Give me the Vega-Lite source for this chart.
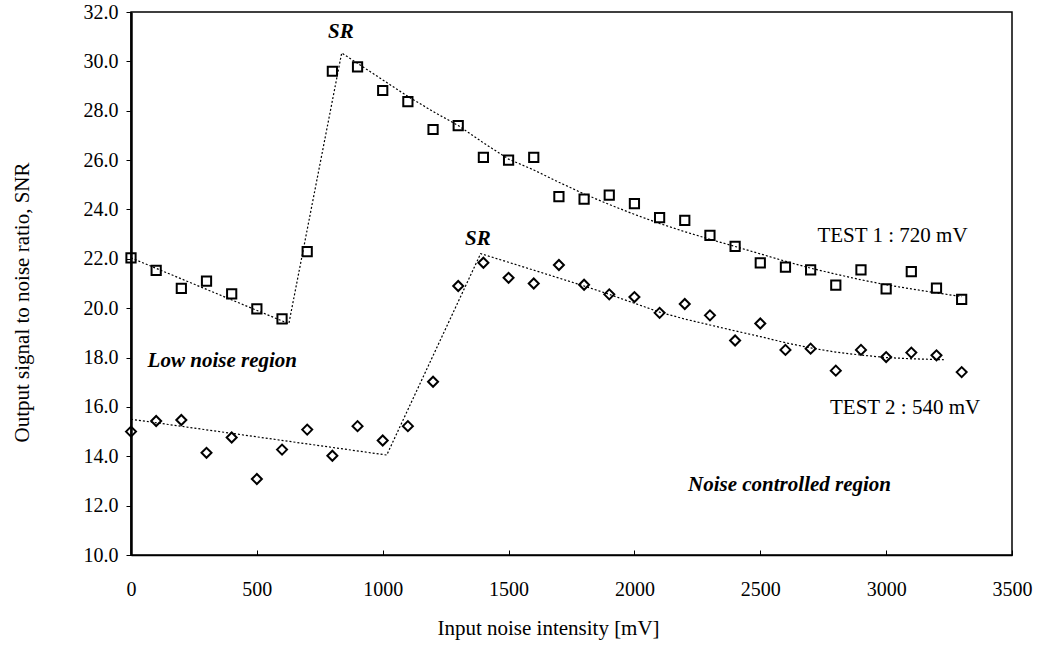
{
  "$schema": "https://vega.github.io/schema/vega-lite/v6.json",
  "autosize": "none",
  "width": 881,
  "height": 543,
  "padding": {"left": 131, "top": 12, "right": 25, "bottom": 90},
  "background": "white",
  "config": {
    "font": "Liberation Serif",
    "view": {"stroke": "black", "strokeWidth": 1.5},
    "axis": {"grid": false, "domainColor": "black", "tickColor": "black", "labelColor": "black", "titleColor": "black", "labelFont": "Liberation Serif", "titleFont": "Liberation Serif", "labelFontSize": 20, "titleFontSize": 21, "titleFontWeight": "normal"}
  },
  "datasets": {
    "points": [
      {"series": "TEST 1", "x": 0, "y": 22.04},
      {"series": "TEST 1", "x": 100, "y": 21.53},
      {"series": "TEST 1", "x": 200, "y": 20.8},
      {"series": "TEST 1", "x": 300, "y": 21.1},
      {"series": "TEST 1", "x": 400, "y": 20.58},
      {"series": "TEST 1", "x": 500, "y": 19.97},
      {"series": "TEST 1", "x": 600, "y": 19.57},
      {"series": "TEST 1", "x": 700, "y": 22.29},
      {"series": "TEST 1", "x": 800, "y": 29.6},
      {"series": "TEST 1", "x": 900, "y": 29.78},
      {"series": "TEST 1", "x": 1000, "y": 28.82},
      {"series": "TEST 1", "x": 1100, "y": 28.37},
      {"series": "TEST 1", "x": 1200, "y": 27.24},
      {"series": "TEST 1", "x": 1300, "y": 27.4},
      {"series": "TEST 1", "x": 1400, "y": 26.11},
      {"series": "TEST 1", "x": 1500, "y": 26.0},
      {"series": "TEST 1", "x": 1600, "y": 26.11},
      {"series": "TEST 1", "x": 1700, "y": 24.52},
      {"series": "TEST 1", "x": 1800, "y": 24.42},
      {"series": "TEST 1", "x": 1900, "y": 24.58},
      {"series": "TEST 1", "x": 2000, "y": 24.24},
      {"series": "TEST 1", "x": 2100, "y": 23.67},
      {"series": "TEST 1", "x": 2200, "y": 23.56},
      {"series": "TEST 1", "x": 2300, "y": 22.95},
      {"series": "TEST 1", "x": 2400, "y": 22.5},
      {"series": "TEST 1", "x": 2500, "y": 21.84},
      {"series": "TEST 1", "x": 2600, "y": 21.66},
      {"series": "TEST 1", "x": 2700, "y": 21.55},
      {"series": "TEST 1", "x": 2800, "y": 20.93},
      {"series": "TEST 1", "x": 2900, "y": 21.55},
      {"series": "TEST 1", "x": 3000, "y": 20.78},
      {"series": "TEST 1", "x": 3100, "y": 21.48},
      {"series": "TEST 1", "x": 3200, "y": 20.81},
      {"series": "TEST 1", "x": 3300, "y": 20.36},
      {"series": "TEST 2", "x": 0, "y": 15.0},
      {"series": "TEST 2", "x": 100, "y": 15.43},
      {"series": "TEST 2", "x": 200, "y": 15.47},
      {"series": "TEST 2", "x": 300, "y": 14.14},
      {"series": "TEST 2", "x": 400, "y": 14.76},
      {"series": "TEST 2", "x": 500, "y": 13.08},
      {"series": "TEST 2", "x": 600, "y": 14.27},
      {"series": "TEST 2", "x": 700, "y": 15.08},
      {"series": "TEST 2", "x": 800, "y": 14.02},
      {"series": "TEST 2", "x": 900, "y": 15.22},
      {"series": "TEST 2", "x": 1000, "y": 14.64},
      {"series": "TEST 2", "x": 1100, "y": 15.22},
      {"series": "TEST 2", "x": 1200, "y": 17.02},
      {"series": "TEST 2", "x": 1300, "y": 20.9},
      {"series": "TEST 2", "x": 1400, "y": 21.84},
      {"series": "TEST 2", "x": 1500, "y": 21.23},
      {"series": "TEST 2", "x": 1600, "y": 21.0},
      {"series": "TEST 2", "x": 1700, "y": 21.75},
      {"series": "TEST 2", "x": 1800, "y": 20.95},
      {"series": "TEST 2", "x": 1900, "y": 20.56},
      {"series": "TEST 2", "x": 2000, "y": 20.45},
      {"series": "TEST 2", "x": 2100, "y": 19.81},
      {"series": "TEST 2", "x": 2200, "y": 20.17},
      {"series": "TEST 2", "x": 2300, "y": 19.71},
      {"series": "TEST 2", "x": 2400, "y": 18.69},
      {"series": "TEST 2", "x": 2500, "y": 19.38},
      {"series": "TEST 2", "x": 2600, "y": 18.31},
      {"series": "TEST 2", "x": 2700, "y": 18.36},
      {"series": "TEST 2", "x": 2800, "y": 17.47},
      {"series": "TEST 2", "x": 2900, "y": 18.31},
      {"series": "TEST 2", "x": 3000, "y": 18.02},
      {"series": "TEST 2", "x": 3100, "y": 18.2},
      {"series": "TEST 2", "x": 3200, "y": 18.09},
      {"series": "TEST 2", "x": 3300, "y": 17.41}
    ],
    "fits": [
      {"fit": "F1", "x": 0, "y": 22.04},
      {"fit": "F1", "x": 627, "y": 19.37},
      {"fit": "F1", "x": 837, "y": 30.34},
      {"fit": "F1", "x": 900, "y": 29.92},
      {"fit": "F1", "x": 1000, "y": 29.25},
      {"fit": "F1", "x": 1100, "y": 28.58},
      {"fit": "F1", "x": 1200, "y": 27.97},
      {"fit": "F1", "x": 1300, "y": 27.4},
      {"fit": "F1", "x": 1400, "y": 26.7},
      {"fit": "F1", "x": 1500, "y": 26.04},
      {"fit": "F1", "x": 1600, "y": 25.6},
      {"fit": "F1", "x": 1700, "y": 25.1},
      {"fit": "F1", "x": 1800, "y": 24.63},
      {"fit": "F1", "x": 1900, "y": 24.2},
      {"fit": "F1", "x": 2000, "y": 23.8},
      {"fit": "F1", "x": 2100, "y": 23.43},
      {"fit": "F1", "x": 2200, "y": 23.1},
      {"fit": "F1", "x": 2300, "y": 22.79},
      {"fit": "F1", "x": 2400, "y": 22.5},
      {"fit": "F1", "x": 2500, "y": 22.2},
      {"fit": "F1", "x": 2600, "y": 21.9},
      {"fit": "F1", "x": 2700, "y": 21.62},
      {"fit": "F1", "x": 2800, "y": 21.38},
      {"fit": "F1", "x": 2900, "y": 21.15},
      {"fit": "F1", "x": 3000, "y": 20.95},
      {"fit": "F1", "x": 3100, "y": 20.78},
      {"fit": "F1", "x": 3200, "y": 20.62},
      {"fit": "F1", "x": 3300, "y": 20.47},
      {"fit": "F2", "x": 0, "y": 15.5},
      {"fit": "F2", "x": 1016, "y": 14.05},
      {"fit": "F2", "x": 1389, "y": 22.21},
      {"fit": "F2", "x": 1500, "y": 21.86},
      {"fit": "F2", "x": 1600, "y": 21.54},
      {"fit": "F2", "x": 1700, "y": 21.22},
      {"fit": "F2", "x": 1800, "y": 20.9},
      {"fit": "F2", "x": 1900, "y": 20.56},
      {"fit": "F2", "x": 2000, "y": 20.2},
      {"fit": "F2", "x": 2100, "y": 19.84},
      {"fit": "F2", "x": 2200, "y": 19.56},
      {"fit": "F2", "x": 2300, "y": 19.32},
      {"fit": "F2", "x": 2400, "y": 19.08},
      {"fit": "F2", "x": 2500, "y": 18.85},
      {"fit": "F2", "x": 2600, "y": 18.6},
      {"fit": "F2", "x": 2700, "y": 18.39},
      {"fit": "F2", "x": 2800, "y": 18.22},
      {"fit": "F2", "x": 2900, "y": 18.1},
      {"fit": "F2", "x": 3000, "y": 18.0},
      {"fit": "F2", "x": 3100, "y": 17.95},
      {"fit": "F2", "x": 3234, "y": 17.91}
    ],
    "boldLabels": [
      {"label": "SR", "x": 783, "y": 30.93},
      {"label": "SR", "x": 1327, "y": 22.56},
      {"label": "Low noise region", "x": 66, "y": 17.6},
      {"label": "Noise controlled region", "x": 2213, "y": 12.6}
    ],
    "plainLabels": [
      {"label": "TEST 1 : 720 mV", "x": 2727, "y": 22.7},
      {"label": "TEST 2 : 540 mV", "x": 2777, "y": 15.7}
    ]
  },
  "encoding": {
    "x": {"field": "x", "type": "quantitative", "scale": {"domain": [0, 3500], "nice": false, "zero": false},
      "axis": {"title": "Input noise intensity [mV]", "values": [0, 500, 1000, 1500, 2000, 2500, 3000, 3500], "format": "d", "tickSize": -5, "labelPadding": 29, "domainWidth": 1.5, "tickWidth": 1, "titleX": 417, "titleY": 73, "titleBaseline": "middle", "titleAlign": "center", "labelFlush": false}},
    "y": {"field": "y", "type": "quantitative", "scale": {"domain": [10, 32], "nice": false, "zero": false},
      "axis": {"title": "Output signal to noise ratio, SNR", "values": [10, 12, 14, 16, 18, 20, 22, 24, 26, 28, 30, 32], "format": ".1f", "tickSize": 5, "labelPadding": 8, "domainWidth": 2.5, "tickWidth": 1, "titleX": -109, "titleY": 290, "titleBaseline": "middle", "titleAlign": "center", "titleAngle": -90, "labelFlush": false}}
  },
  "layer": [
    {
      "data": {"name": "fits"},
      "mark": {"type": "line", "color": "black", "strokeWidth": 1.2, "strokeDash": [2, 2]},
      "encoding": {"detail": {"field": "fit", "type": "nominal"}}
    },
    {
      "data": {"name": "points"},
      "transform": [{"filter": "datum.series === 'TEST 1'"}],
      "mark": {"type": "point", "shape": "square", "filled": false, "color": "black", "strokeWidth": 2, "size": 85, "opacity": 1}
    },
    {
      "data": {"name": "points"},
      "transform": [{"filter": "datum.series === 'TEST 2'"}],
      "mark": {"type": "point", "shape": "diamond", "filled": false, "color": "black", "strokeWidth": 2, "size": 100, "opacity": 1}
    },
    {
      "data": {"name": "boldLabels"},
      "mark": {"type": "text", "align": "left", "baseline": "alphabetic", "font": "Liberation Serif", "fontSize": 21, "fontWeight": "bold", "fontStyle": "italic", "color": "black"},
      "encoding": {"text": {"field": "label"}}
    },
    {
      "data": {"name": "plainLabels"},
      "mark": {"type": "text", "align": "left", "baseline": "alphabetic", "font": "Liberation Serif", "fontSize": 21, "color": "black"},
      "encoding": {"text": {"field": "label"}}
    }
  ]
}
